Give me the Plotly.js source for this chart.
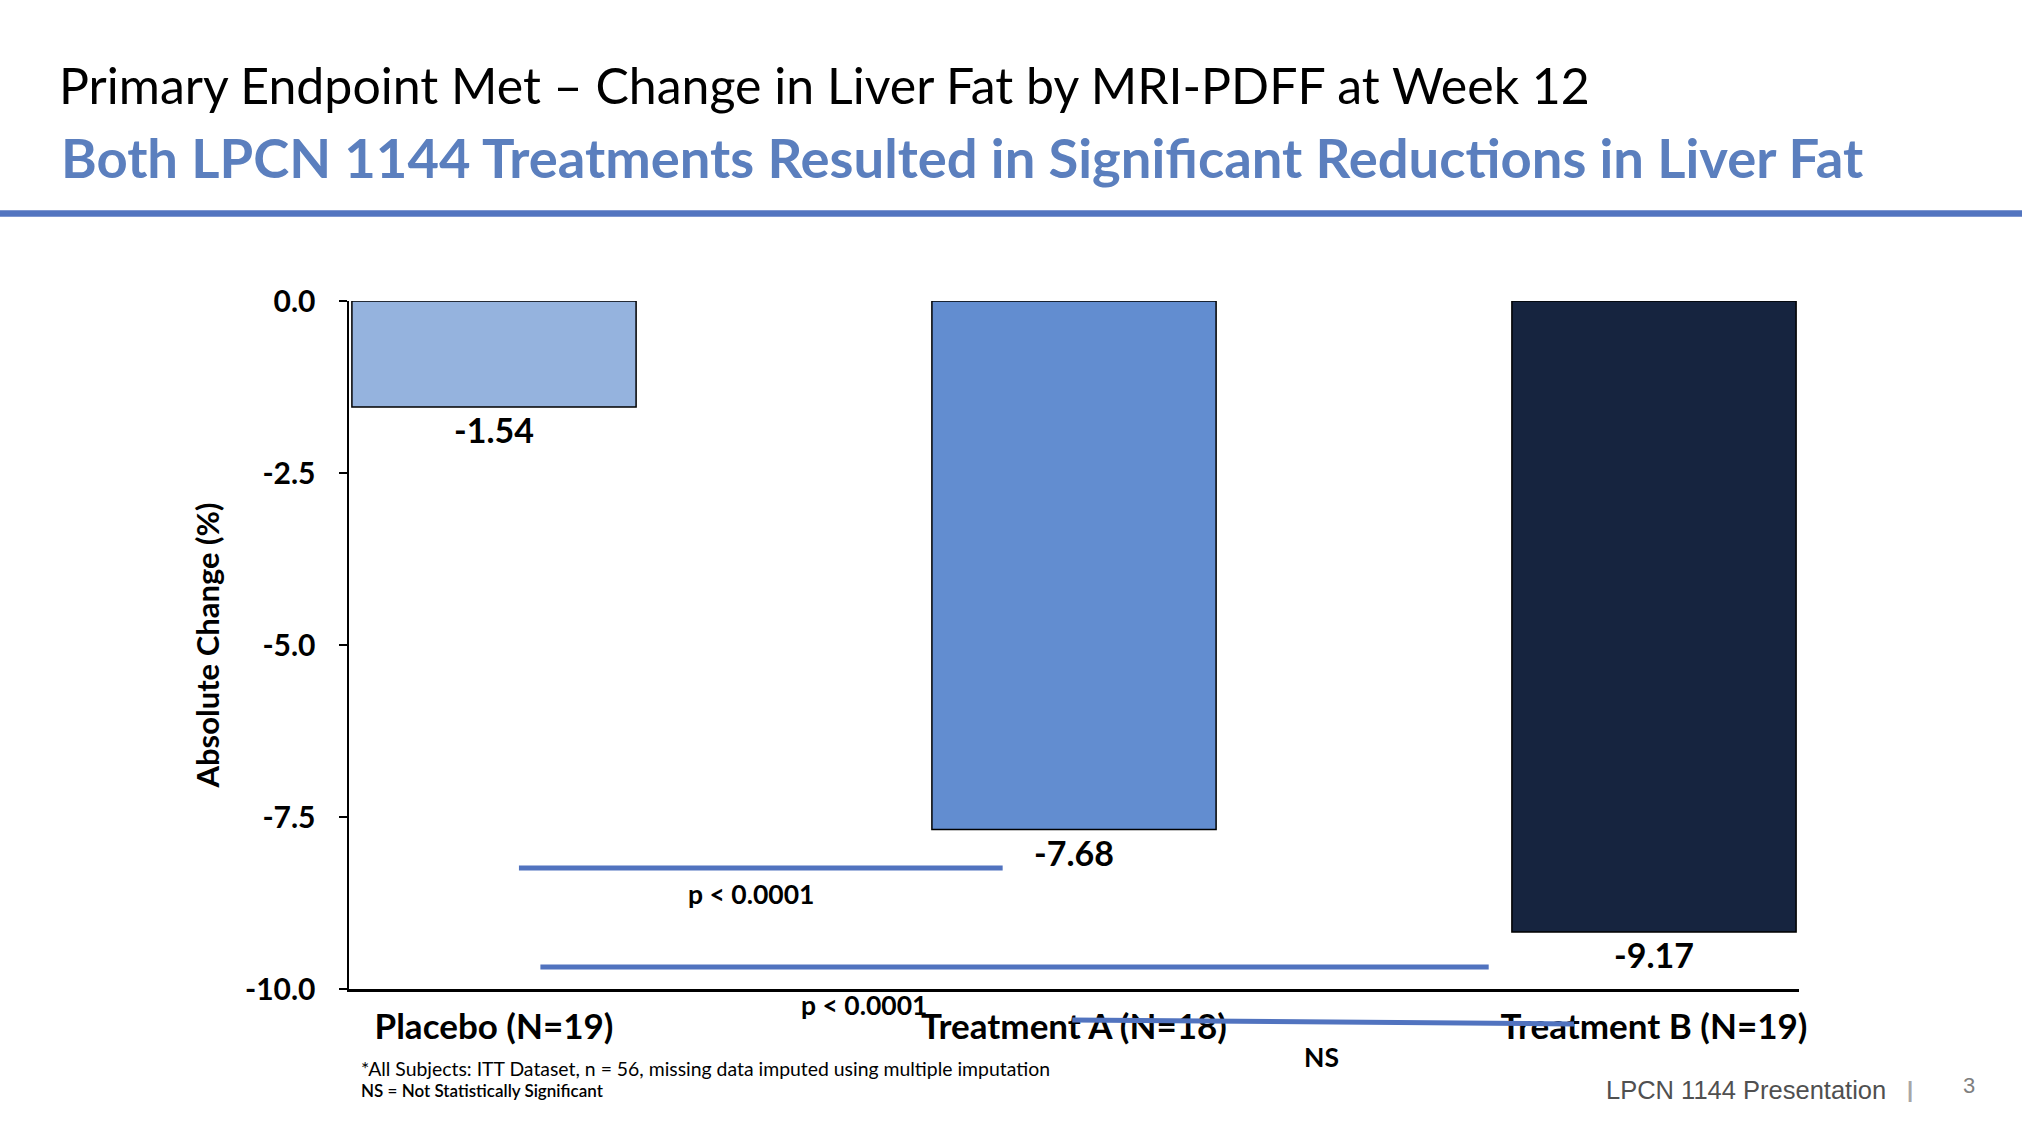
<!DOCTYPE html>
<html>
<head>
<meta charset="utf-8">
<script src="https://cdn.plot.ly/plotly-3.0.1.min.js"></script>
<style>html,body{margin:0;padding:0;background:#fff;}#chart{width:2022px;height:1130px;}</style>
</head>
<body>
<div id="chart"></div>
<script>
// ---- data ----
const categories = ['Placebo (N=19)', 'Treatment A (N=18)', 'Treatment B (N=19)'];
const changes = [-1.54, -7.68, -9.17];
const yTickVals = [0, -2.5, -5, -7.5, -10];
const yTickText = ['0.0', '-2.5', '-5.0', '-7.5', '-10.0'];
const pLabels = ['p < 0.0001', 'p < 0.0001', 'NS'];
const titleText = 'Primary Endpoint Met \u2013 Change in Liver Fat by MRI-PDFF at Week 12';
const subtitleText = 'Both LPCN 1144 Treatments Resulted in Significant Reductions in Liver Fat';
const yTitle = 'Absolute Change (%)';
const footnotes = ['*All Subjects: ITT Dataset, n = 56, missing data imputed using multiple imputation', 'NS = Not Statistically Significant'];
const footerText = 'LPCN 1144 Presentation';
const pageNumber = '3';

// ---- styles ----
const barColors = ['#95B3DE', '#628DD0', '#16243F'];
const FONT = 'Lato, Carlito, sans-serif';
const lineBlue = '#5173BF';

const W = 2022, H = 1130;
const M = {l: 349, r: 223, t: 301, b: 141};
const PW = W - M.l - M.r, PH = H - M.t - M.b;
const px2paperX = p => (p - M.l) / PW;
const px2paperY = p => (H - M.b - p) / PH;

const trace = {
  type: 'bar',
  x: categories,
  y: changes,
  width: 0.49,
  marker: {color: barColors, line: {color: '#000', width: 1.5}},
  cliponaxis: false,
  hoverinfo: 'skip'
};

const annotations = [];
changes.forEach((v, i) => {
  annotations.push({
    x: categories[i], y: v, xref: 'x', yref: 'y', yshift: -23,
    text: v.toFixed(2), showarrow: false, xanchor: 'center', yanchor: 'middle',
    font: {family: FONT, size: 34, color: '#000', weight: 'bold'}
  });
});
// comparison labels
const pPos = [
  {x: 0.443, y: px2paperY(894)},
  {x: 0.638, y: px2paperY(1005)},
  {x: 1.426, y: px2paperY(1057)}
];
pLabels.forEach((t, i) => {
  annotations.push({
    x: pPos[i].x, y: pPos[i].y, xref: 'x', yref: 'paper', text: t, showarrow: false,
    xanchor: 'center', yanchor: 'middle',
    font: {family: FONT, size: 26.5, color: '#000', weight: 'bold'}
  });
});
// subtitle
annotations.push({
  x: px2paperX(59), y: px2paperY(157), xref: 'paper', yref: 'paper', text: subtitleText,
  showarrow: false, xanchor: 'left', yanchor: 'middle',
  font: {family: FONT, size: 54.4, color: '#5B7FBE', weight: 'bold'}
});
// footnotes
annotations.push({
  x: px2paperX(359), y: px2paperY(1068), xref: 'paper', yref: 'paper', text: footnotes[0],
  showarrow: false, xanchor: 'left', yanchor: 'middle',
  font: {family: FONT, size: 19.4, color: '#000'}
});
annotations.push({
  x: px2paperX(359), y: px2paperY(1090), xref: 'paper', yref: 'paper', text: footnotes[1],
  showarrow: false, xanchor: 'left', yanchor: 'middle',
  font: {family: FONT, size: 17, color: '#000', weight: 600}
});
// footer
annotations.push({
  x: px2paperX(1888), y: px2paperY(1090), xref: 'paper', yref: 'paper', text: footerText,
  showarrow: false, xanchor: 'right', yanchor: 'middle',
  font: {family: 'Liberation Sans, Arial, sans-serif', size: 25.5, color: '#505050'}
});
annotations.push({
  x: px2paperX(1910), y: px2paperY(1089), xref: 'paper', yref: 'paper', text: '|',
  showarrow: false, xanchor: 'center', yanchor: 'middle',
  font: {family: 'Liberation Sans, Arial, sans-serif', size: 22, color: '#A6A6A6', weight: 'bold'}
});
annotations.push({
  x: px2paperX(1969), y: px2paperY(1085), xref: 'paper', yref: 'paper', text: pageNumber,
  showarrow: false, xanchor: 'center', yanchor: 'middle',
  font: {family: 'Liberation Sans, Arial, sans-serif', size: 22, color: '#7F7F7F'}
});

const shapes = [
  // header rule
  {type: 'line', xref: 'paper', yref: 'paper', x0: px2paperX(0), x1: px2paperX(W), y0: px2paperY(213.5), y1: px2paperY(213.5),
   line: {color: '#5375C0', width: 6.5}},
  // comparison lines
  {type: 'line', xref: 'x', yref: 'y', x0: 0.043, x1: 0.877, y0: -8.24, y1: -8.24, line: {color: lineBlue, width: 5}},
  {type: 'line', xref: 'x', yref: 'y', x0: 0.080, x1: 1.715, y0: -9.68, y1: -9.68, line: {color: lineBlue, width: 5}},
  {type: 'line', xref: 'x', yref: 'paper', x0: 0.997, x1: 1.862, y0: px2paperY(1020), y1: px2paperY(1024), line: {color: lineBlue, width: 5}, layer: 'above'}
];

const layout = {
  width: W, height: H,
  margin: M,
  paper_bgcolor: '#fff', plot_bgcolor: '#fff',
  showlegend: false,
  title: {
    text: titleText, xref: 'container', yref: 'container',
    x: 59 / W, xanchor: 'left', y: 1 - 86 / H, yanchor: 'middle',
    font: {family: FONT, size: 50, color: '#000'}
  },
  xaxis: {
    type: 'category', range: [-0.25, 2.25],
    showline: true, linecolor: '#000', linewidth: 2.5,
    ticks: '', showgrid: false, zeroline: false,
    tickfont: {family: FONT, size: 35, color: '#000', weight: 'bold'},
    ticklabelstandoff: 5,
    fixedrange: true
  },
  yaxis: {
    range: [-10, 0], tickvals: yTickVals, ticktext: yTickText,
    showline: true, linecolor: '#000', linewidth: 2.5,
    ticks: 'outside', ticklen: 8, tickwidth: 2.5, tickcolor: '#000',
    showgrid: false, zeroline: false,
    tickfont: {family: FONT, size: 30, color: '#000', weight: 'bold'},
    ticklabelstandoff: 17,
    title: {text: yTitle, standoff: 16, font: {family: FONT, size: 31, color: '#000', weight: 'bold'}},
    fixedrange: true
  },
  bargap: 0.5,
  annotations: annotations,
  shapes: shapes
};

Plotly.newPlot('chart', [trace], layout, {displayModeBar: false, staticPlot: true});
</script>
</body>
</html>
